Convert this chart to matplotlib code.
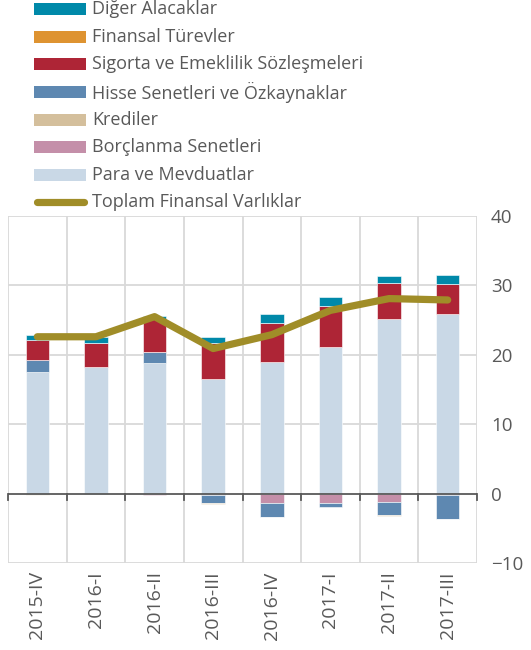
import matplotlib
matplotlib.use("Agg")
import matplotlib.pyplot as plt
import numpy as np
from matplotlib.patches import Rectangle
from matplotlib.lines import Line2D

plt.rcParams['font.family'] = ['Open Sans', 'DejaVu Sans']

categories = ["2015-IV", "2016-I", "2016-II", "2016-III", "2016-IV", "2017-I", "2017-II", "2017-III"]

para = [17.5, 18.3, 18.8, 16.5, 18.9, 21.1, 25.1, 25.9]
borclanma = [0.0, 0.0, -0.2, -0.2, -1.4, -1.4, -1.2, -0.2]
hisse = [1.7, 0.0, 1.6, -1.2, -1.9, -0.6, -1.9, -3.4]
krediler = [-0.15, 0.0, 0.0, -0.1, -0.1, 0.0, -0.1, -0.05]
sigorta = [3.0, 3.4, 4.7, 5.2, 5.7, 6.0, 5.3, 4.3]
turevler = [-0.1, 0.0, 0.0, 0.0, 0.0, 0.0, 0.0, 0.0]
diger = [0.6, 0.9, 0.5, 0.8, 1.3, 1.3, 0.9, 1.3]
toplam = [22.6, 22.6, 25.5, 20.9, 22.9, 26.4, 28.1, 27.9]

yticks = [-10, 0, 10, 20, 30, 40]

series = [
    ("Para ve Mevduatlar", para, "#C9D8E6"),
    ("Borçlanma Senetleri", borclanma, "#C48FA9"),
    ("Hisse Senetleri ve Özkaynaklar", hisse, "#5E88B1"),
    ("Krediler", krediler, "#D4BF9C"),
    ("Sigorta ve Emeklilik Sözleşmeleri", sigorta, "#AE2536"),
    ("Finansal Türevler", turevler, "#DE9331"),
    ("Diğer Alacaklar", diger, "#0089A9"),
]
line_color = "#A08D28"
text_color = "#595959"

W, H = 531, 650
fig = plt.figure(figsize=(W / 100, H / 100), dpi=100)
ax = fig.add_axes([8 / W, 1 - 563 / H, (477 - 8) / W, (563 - 216) / H])

x = np.arange(len(categories))
pos = np.zeros(len(categories))
neg = np.zeros(len(categories))
for name, vals, col in series:
    v = np.array(vals, dtype=float)
    bottoms = np.where(v >= 0, pos, neg)
    ax.bar(x, v, width=0.40, bottom=bottoms, color=col, edgecolor="white", linewidth=0.4, zorder=3)
    pos = pos + np.where(v >= 0, v, 0)
    neg = neg + np.where(v < 0, v, 0)

ax.plot(x, toplam, color=line_color, linewidth=5.2, solid_capstyle="round", solid_joinstyle="round", zorder=5)

ax.set_xlim(-0.5, len(categories) - 0.5)
ax.set_ylim(-10, 40)
ax.set_yticks(yticks)
ax.yaxis.tick_right()
ax.tick_params(axis="y", length=0, pad=10, labelsize=13.5, labelcolor=text_color)
ax.set_xticks(x)
ax.set_xticklabels([])
ax.tick_params(axis="x", length=0)

for yv in yticks:
    if yv != 0:
        ax.axhline(yv, color="#D9D9D9", linewidth=1.3, zorder=1)
for b in np.arange(-0.5, len(categories), 1.0):
    ax.axvline(b, color="#D9D9D9", linewidth=1.3, zorder=1)
for s in ax.spines.values():
    s.set_visible(False)

ax.axhline(0, color=text_color, linewidth=1.3, zorder=4)
for b in np.arange(-0.5, len(categories), 1.0):
    ax.plot([b, b], [0, -0.9], color=text_color, linewidth=1.3, zorder=4, clip_on=False)

for i, c in enumerate(categories):
    ax.text(i, -11.2, c, rotation=90, ha="center", va="top", fontsize=14, color=text_color)

# legend (manual)
legend_items = [("Diğer Alacaklar", "#0089A9"),
                ("Finansal Türevler", "#DE9331"),
                ("Sigorta ve Emeklilik Sözleşmeleri", "#AE2536"),
                ("Hisse Senetleri ve Özkaynaklar", "#5E88B1"),
                ("Krediler", "#D4BF9C"),
                ("Borçlanma Senetleri", "#C48FA9"),
                ("Para ve Mevduatlar", "#C9D8E6")]
for i, (lab, col) in enumerate(legend_items):
    yc = 9.2 + 27.6 * i
    fig.add_artist(Rectangle((34 / W, 1 - (yc + 6) / H), 52 / W, 12 / H, transform=fig.transFigure,
                             facecolor=col, edgecolor="none"))
    fig.text(92 / W, 1 - yc / H, lab, ha="left", va="center", fontsize=13, color=text_color)
yc = 9.2 + 27.6 * 7
fig.add_artist(Line2D([37 / W, 84 / W], [1 - yc / H, 1 - yc / H], transform=fig.transFigure,
                      color=line_color, linewidth=5.2, solid_capstyle="round"))
fig.text(92 / W, 1 - yc / H, "Toplam Finansal Varlıklar", ha="left", va="center", fontsize=13, color=text_color)

fig.savefig("out.png", dpi=100)
